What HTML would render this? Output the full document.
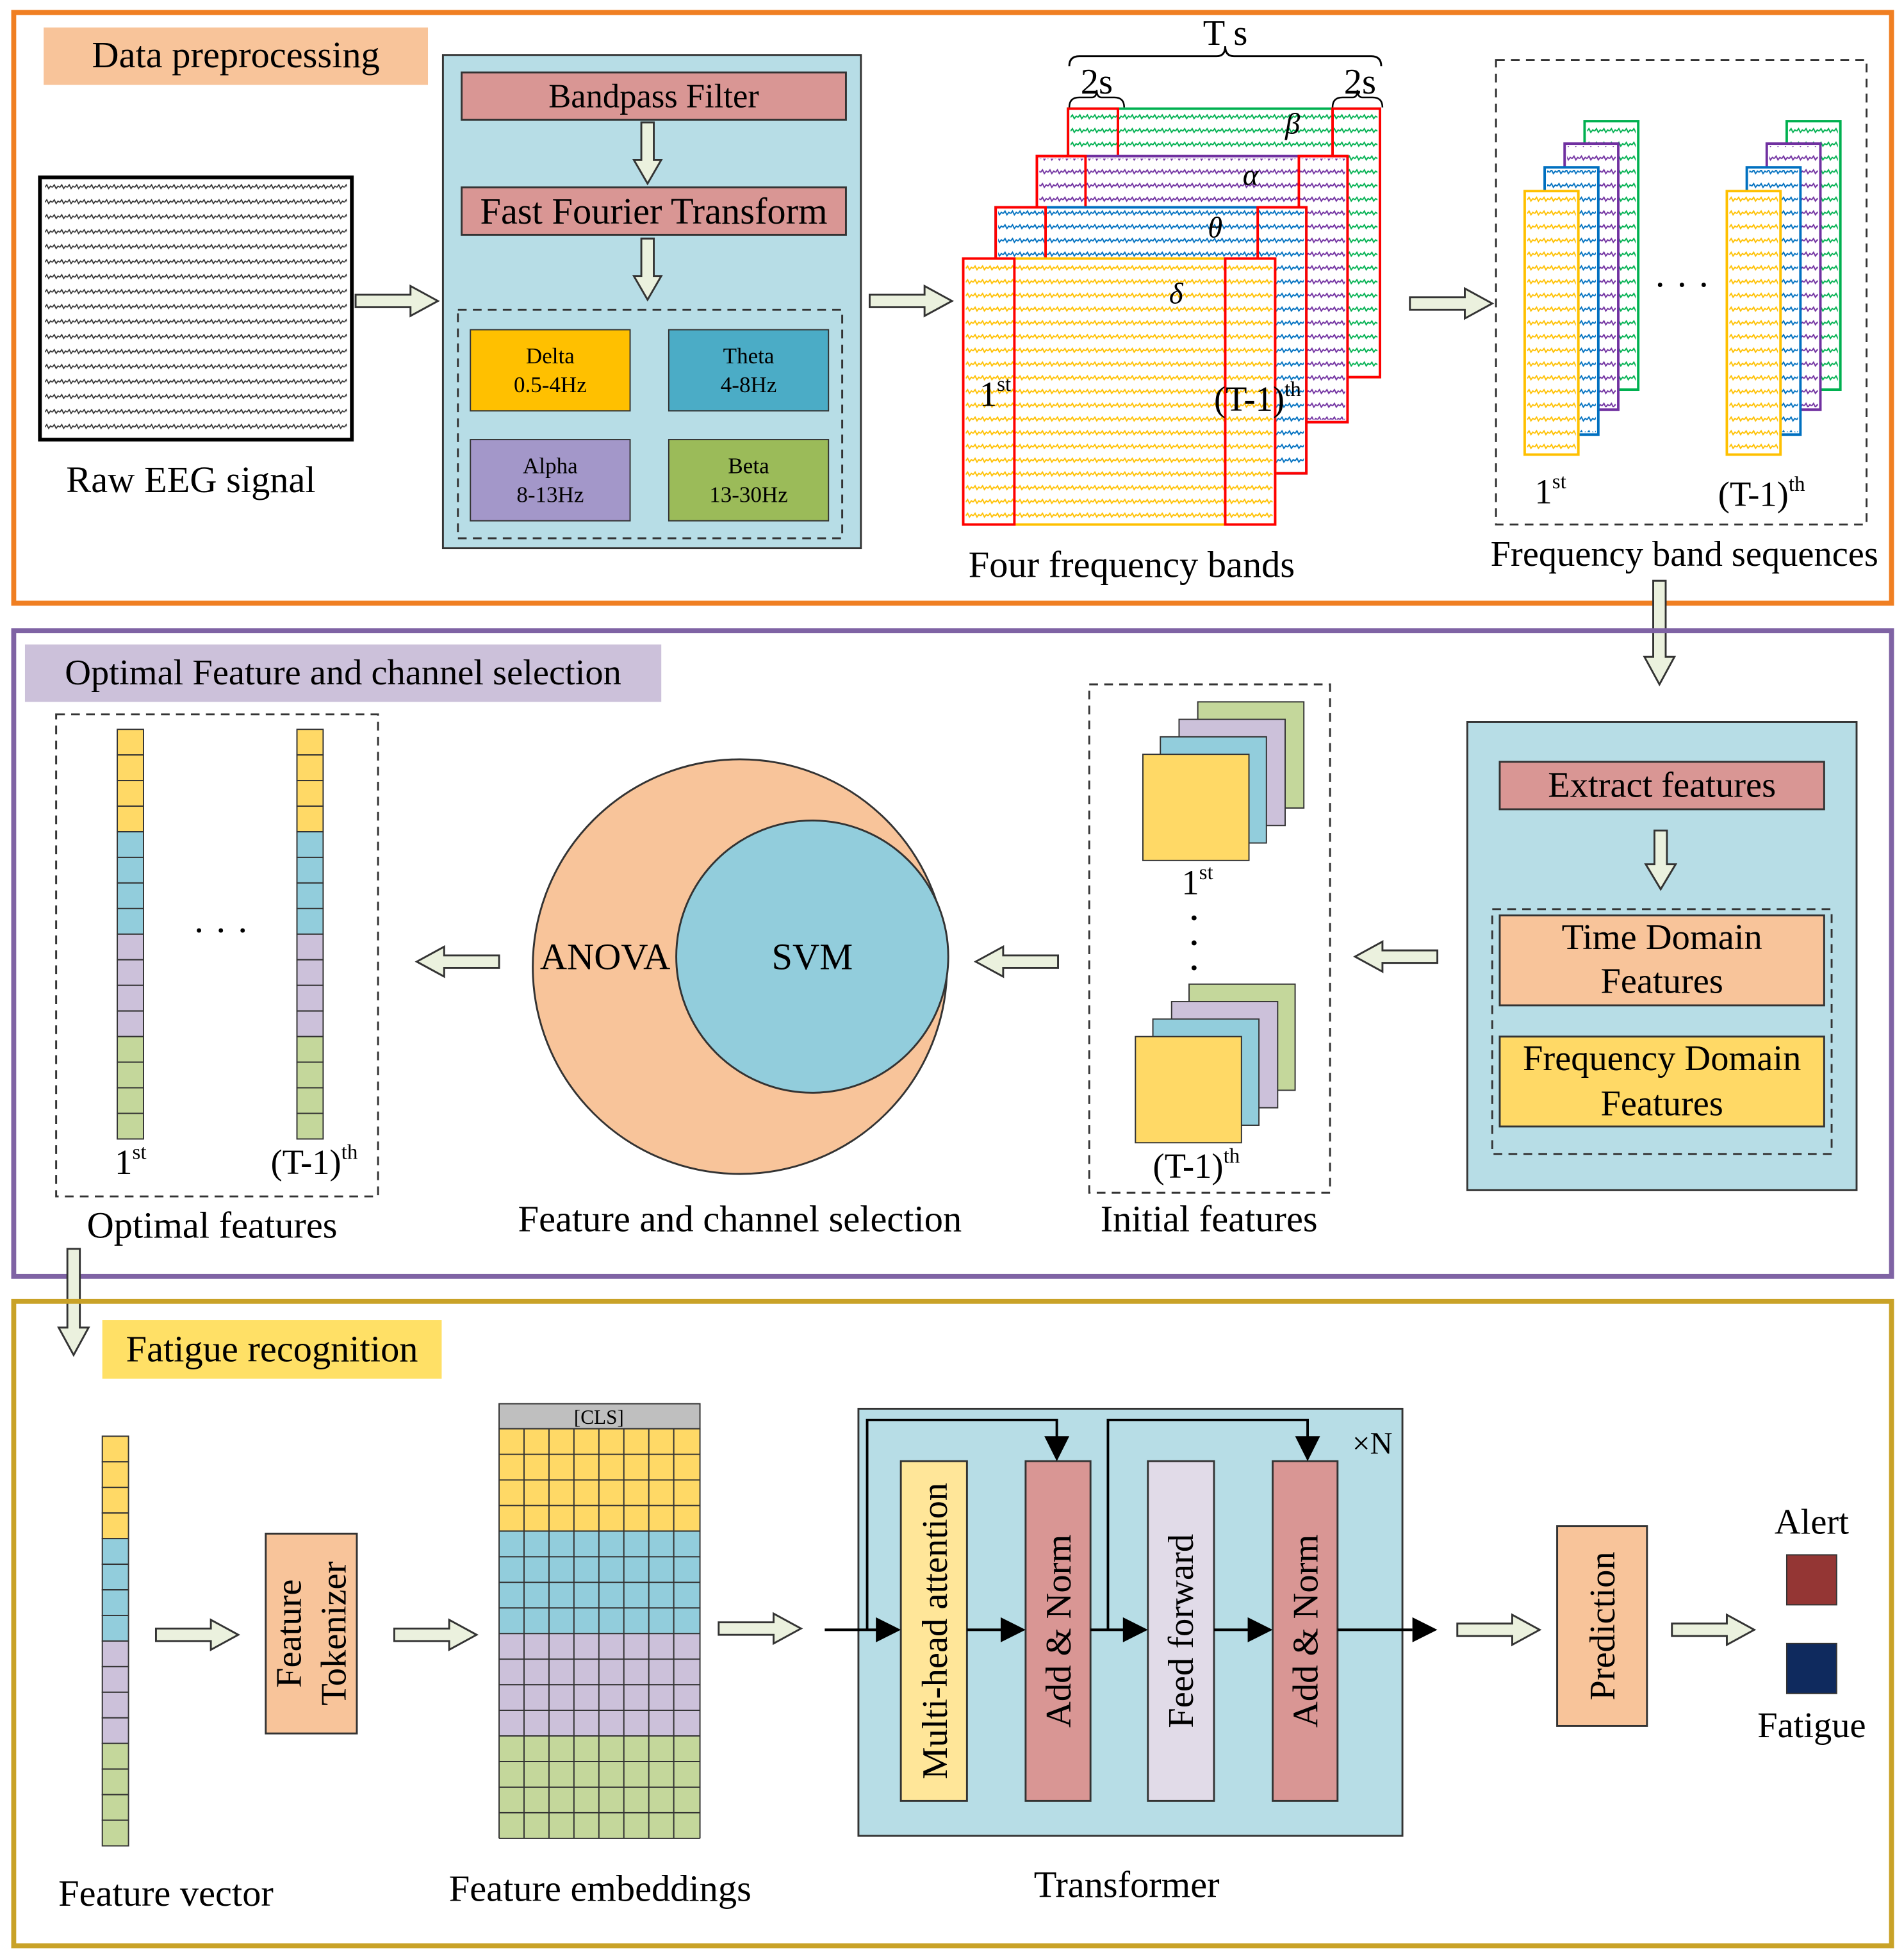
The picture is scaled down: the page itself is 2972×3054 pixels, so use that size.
<!DOCTYPE html>
<html><head><meta charset="utf-8"><style>
html,body{margin:0;padding:0;background:#fff}
svg{display:block}
text{font-family:"Liberation Serif",serif;fill:#000}
</style></head><body>
<svg width="2972" height="3054" viewBox="0 0 1526 1567" preserveAspectRatio="none" xmlns="http://www.w3.org/2000/svg">
<defs>
<polygon id="ar" points="0,7 44,7 44,0 66,12 44,24 44,17 0,17" fill="#ebf1de" stroke="#333" stroke-width="1.5"/>
<pattern id="wk" width="6" height="12" patternUnits="userSpaceOnUse"><path d="M0,6 l1.5,-2 1.5,3 1.5,-2 1.5,1" fill="none" stroke="#333" stroke-width="0.9"/></pattern>
<pattern id="wg" width="6" height="11" patternUnits="userSpaceOnUse"><path d="M0,6 l1.5,-2 1.5,3 1.5,-2 1.5,1" fill="none" stroke="#00b050" stroke-width="1"/></pattern>
<pattern id="wp" width="6" height="11" patternUnits="userSpaceOnUse"><path d="M0,6 l1.5,-2 1.5,3 1.5,-2 1.5,1" fill="none" stroke="#7030a0" stroke-width="1"/></pattern>
<pattern id="wb" width="6" height="11" patternUnits="userSpaceOnUse"><path d="M0,6 l1.5,-2 1.5,3 1.5,-2 1.5,1" fill="none" stroke="#0070c0" stroke-width="1"/></pattern>
<pattern id="wy" width="6" height="11" patternUnits="userSpaceOnUse"><path d="M0,6 l1.5,-2 1.5,3 1.5,-2 1.5,1" fill="none" stroke="#ffc000" stroke-width="1"/></pattern>
</defs>

<!-- Section 1 -->
<rect x="11" y="10" width="1505" height="473" fill="none" stroke="#f07f22" stroke-width="4"/>
<rect x="35" y="22" width="308" height="46" fill="#f8c49a"/>
<text x="189" y="54" font-size="30" text-anchor="middle">Data preprocessing</text>

<rect x="32" y="142" width="250" height="210" fill="#fff" stroke="#000" stroke-width="3"/>
<rect x="36" y="146" width="242" height="202" fill="url(#wk)"/>
<text x="153" y="394" font-size="30" text-anchor="middle">Raw EEG signal</text>
<use href="#ar" transform="translate(285,229)"/>

<rect x="355" y="44" width="335" height="395" fill="#b7dde6" stroke="#333" stroke-width="1.5"/>
<rect x="370" y="58" width="308" height="38" fill="#d99694" stroke="#333" stroke-width="1.5"/>
<text x="524" y="86" font-size="27" text-anchor="middle">Bandpass Filter</text>
<rect x="370" y="150" width="308" height="38" fill="#d99694" stroke="#333" stroke-width="1.5"/>
<text x="524" y="179" font-size="30" text-anchor="middle">Fast Fourier Transform</text>
<polygon points="514,98 524,98 524,128 530,128 519,147 508,128 514,128" fill="#ebf1de" stroke="#333" stroke-width="1.5"/>
<polygon points="514,191 524,191 524,221 530,221 519,240 508,221 514,221" fill="#ebf1de" stroke="#333" stroke-width="1.5"/>
<rect x="367" y="248" width="308" height="183" fill="none" stroke="#333" stroke-width="1.5" stroke-dasharray="7,5"/>
<rect x="377" y="264" width="128" height="65" fill="#ffc000" stroke="#333"/>
<text x="441" y="291" font-size="18" text-anchor="middle">Delta</text><text x="441" y="314" font-size="18" text-anchor="middle">0.5-4Hz</text>
<rect x="536" y="264" width="128" height="65" fill="#4bacc6" stroke="#333"/>
<text x="600" y="291" font-size="18" text-anchor="middle">Theta</text><text x="600" y="314" font-size="18" text-anchor="middle">4-8Hz</text>
<rect x="377" y="352" width="128" height="65" fill="#a397c9" stroke="#333"/>
<text x="441" y="379" font-size="18" text-anchor="middle">Alpha</text><text x="441" y="402" font-size="18" text-anchor="middle">8-13Hz</text>
<rect x="536" y="352" width="128" height="65" fill="#9bbb59" stroke="#333"/>
<text x="600" y="379" font-size="18" text-anchor="middle">Beta</text><text x="600" y="402" font-size="18" text-anchor="middle">13-30Hz</text>
<use href="#ar" transform="translate(697,229)"/>

<!-- four bands -->
<path d="M857,53 q0,-8 8,-8 h110 q7,0 7,-8 q0,8 7,8 h110 q8,0 8,8" fill="none" stroke="#000" stroke-width="1.5"/>
<text x="982" y="36" font-size="29" text-anchor="middle">T s</text>
<path d="M857,86 q0,-8 8,-8 h10 q4,0 4,-6 q0,6 4,6 h10 q8,0 8,8" fill="none" stroke="#000" stroke-width="1.3"/>
<path d="M1068,86 q0,-8 8,-8 h8 q4,0 4,-6 q0,6 4,6 h8 q8,0 8,8" fill="none" stroke="#000" stroke-width="1.3"/>
<text x="879" y="75" font-size="29" text-anchor="middle">2s</text>
<text x="1090" y="75" font-size="29" text-anchor="middle">2s</text>

<rect x="856" y="87" width="250" height="215" fill="#fff" stroke="#00b050" stroke-width="2"/>
<rect x="858" y="89" width="246" height="211" fill="url(#wg)"/>
<rect x="856" y="87" width="40" height="215" fill="none" stroke="#f00" stroke-width="2"/>
<rect x="1068" y="87" width="38" height="215" fill="none" stroke="#f00" stroke-width="2"/>
<text x="1030" y="107" font-size="24" font-style="italic">β</text>

<rect x="831" y="125" width="249" height="213" fill="#fff" stroke="#7030a0" stroke-width="2"/>
<rect x="833" y="127" width="245" height="209" fill="url(#wp)"/>
<rect x="831" y="125" width="39" height="213" fill="none" stroke="#f00" stroke-width="2"/>
<rect x="1041" y="125" width="39" height="213" fill="none" stroke="#f00" stroke-width="2"/>
<text x="996" y="148" font-size="24" font-style="italic">α</text>

<rect x="798" y="166" width="249" height="213" fill="#fff" stroke="#0070c0" stroke-width="2"/>
<rect x="800" y="168" width="245" height="209" fill="url(#wb)"/>
<rect x="798" y="166" width="40" height="213" fill="none" stroke="#f00" stroke-width="2"/>
<rect x="1008" y="166" width="39" height="213" fill="none" stroke="#f00" stroke-width="2"/>
<text x="968" y="190" font-size="24" font-style="italic">θ</text>

<rect x="772" y="207" width="250" height="213" fill="#fff" stroke="#ffc000" stroke-width="2"/>
<rect x="774" y="209" width="246" height="209" fill="url(#wy)"/>
<rect x="772" y="207" width="41" height="213" fill="none" stroke="#f00" stroke-width="2"/>
<rect x="982" y="207" width="40" height="213" fill="none" stroke="#f00" stroke-width="2"/>
<text x="937" y="243" font-size="24" font-style="italic">δ</text>
<text x="785" y="325" font-size="28">1<tspan font-size="17" dy="-12">st</tspan></text>
<text x="973" y="329" font-size="28">(T-1)<tspan font-size="17" dy="-12">th</tspan></text>
<text x="907" y="462" font-size="30" text-anchor="middle">Four frequency bands</text>
<use href="#ar" transform="translate(1130,231)"/>

<rect x="1199" y="48" width="297" height="372" fill="none" stroke="#333" stroke-width="1.5" stroke-dasharray="7,5"/>
<g>
<rect x="1270" y="97" width="43" height="215" fill="#fff" stroke="#00b050" stroke-width="2"/><rect x="1272" y="99" width="39" height="211" fill="url(#wg)"/>
<rect x="1254" y="115" width="43" height="213" fill="#fff" stroke="#7030a0" stroke-width="2"/><rect x="1256" y="117" width="39" height="209" fill="url(#wp)"/>
<rect x="1238" y="134" width="43" height="214" fill="#fff" stroke="#0070c0" stroke-width="2"/><rect x="1240" y="136" width="39" height="210" fill="url(#wb)"/>
<rect x="1222" y="153" width="43" height="211" fill="#fff" stroke="#ffc000" stroke-width="2"/><rect x="1224" y="155" width="39" height="207" fill="url(#wy)"/>
</g>
<g>
<rect x="1432" y="97" width="43" height="215" fill="#fff" stroke="#00b050" stroke-width="2"/><rect x="1434" y="99" width="39" height="211" fill="url(#wg)"/>
<rect x="1416" y="115" width="43" height="213" fill="#fff" stroke="#7030a0" stroke-width="2"/><rect x="1418" y="117" width="39" height="209" fill="url(#wp)"/>
<rect x="1400" y="134" width="43" height="214" fill="#fff" stroke="#0070c0" stroke-width="2"/><rect x="1402" y="136" width="39" height="210" fill="url(#wb)"/>
<rect x="1384" y="153" width="43" height="211" fill="#fff" stroke="#ffc000" stroke-width="2"/><rect x="1386" y="155" width="39" height="207" fill="url(#wy)"/>
</g>
<text x="1348" y="238" font-size="30" text-anchor="middle">· · ·</text>
<text x="1230" y="403" font-size="28">1<tspan font-size="17" dy="-12">st</tspan></text>
<text x="1377" y="405" font-size="28">(T-1)<tspan font-size="17" dy="-12">th</tspan></text>
<text x="1350" y="453" font-size="29" text-anchor="middle">Frequency band sequences</text>
<polygon points="1325,465 1335,465 1335,526 1342,526 1330,548 1318,526 1325,526" fill="#ebf1de" stroke="#333" stroke-width="1.5"/>

<!-- Section 2 -->
<rect x="11" y="505" width="1505" height="517" fill="none" stroke="#7f63a4" stroke-width="4"/>
<rect x="20" y="516" width="510" height="46" fill="#ccc1da"/>
<text x="275" y="548" font-size="29" text-anchor="middle">Optimal Feature and channel selection</text>

<rect x="1176" y="578" width="312" height="375" fill="#b7dde6" stroke="#333" stroke-width="1.5"/>
<rect x="1202" y="610" width="260" height="38" fill="#d99694" stroke="#333" stroke-width="1.5"/>
<text x="1332" y="638" font-size="29" text-anchor="middle">Extract features</text>
<polygon points="1326,665 1336,665 1336,692 1343,692 1331,712 1319,692 1326,692" fill="#ebf1de" stroke="#333" stroke-width="1.5"/>
<rect x="1196" y="728" width="272" height="196" fill="none" stroke="#333" stroke-width="1.5" stroke-dasharray="7,5"/>
<rect x="1202" y="733" width="260" height="72" fill="#f8c49a" stroke="#333" stroke-width="1.5"/>
<text x="1332" y="760" font-size="29" text-anchor="middle">Time Domain</text><text x="1332" y="795" font-size="29" text-anchor="middle">Features</text>
<rect x="1202" y="830" width="260" height="72" fill="#ffd966" stroke="#333" stroke-width="1.5"/>
<text x="1332" y="857" font-size="29" text-anchor="middle">Frequency Domain</text><text x="1332" y="893" font-size="29" text-anchor="middle">Features</text>
<use href="#ar" transform="translate(1152,778) rotate(180)"/>

<rect x="873" y="548" width="193" height="407" fill="none" stroke="#333" stroke-width="1.5" stroke-dasharray="7,5"/>
<rect x="960" y="562" width="85" height="85" fill="#c4d79b" stroke="#333"/>
<rect x="945" y="576" width="85" height="85" fill="#ccc1da" stroke="#333"/>
<rect x="930" y="590" width="85" height="85" fill="#92cddc" stroke="#333"/>
<rect x="916" y="604" width="85" height="85" fill="#ffd966" stroke="#333"/>
<text x="947" y="716" font-size="28">1<tspan font-size="17" dy="-12">st</tspan></text>
<circle cx="957" cy="735" r="2" fill="#000"/><circle cx="957" cy="755" r="2" fill="#000"/><circle cx="957" cy="775" r="2" fill="#000"/>
<rect x="953" y="788" width="85" height="85" fill="#c4d79b" stroke="#333"/>
<rect x="939" y="802" width="85" height="85" fill="#ccc1da" stroke="#333"/>
<rect x="924" y="816" width="85" height="85" fill="#92cddc" stroke="#333"/>
<rect x="910" y="830" width="85" height="85" fill="#ffd966" stroke="#333"/>
<text x="924" y="943" font-size="28">(T-1)<tspan font-size="17" dy="-12">th</tspan></text>
<text x="969" y="986" font-size="30" text-anchor="middle">Initial features</text>
<use href="#ar" transform="translate(848,782) rotate(180)"/>

<circle cx="593" cy="774" r="166" fill="#f8c49a" stroke="#333" stroke-width="1.5"/>
<circle cx="651" cy="766" r="109" fill="#92cddc" stroke="#333" stroke-width="1.5"/>
<text x="485" y="776" font-size="30" text-anchor="middle">ANOVA</text>
<text x="651" y="776" font-size="30" text-anchor="middle">SVM</text>
<text x="593" y="986" font-size="30" text-anchor="middle">Feature and channel selection</text>
<use href="#ar" transform="translate(400,782) rotate(180)"/>

<rect x="45" y="572" width="258" height="386" fill="none" stroke="#333" stroke-width="1.5" stroke-dasharray="7,5"/>
<g stroke="#333" stroke-width="1">
<rect x="94" y="584" width="21" height="20.5" fill="#ffd966"/><rect x="94" y="604.5" width="21" height="20.5" fill="#ffd966"/><rect x="94" y="625" width="21" height="20.5" fill="#ffd966"/><rect x="94" y="645.5" width="21" height="20.5" fill="#ffd966"/>
<rect x="94" y="666" width="21" height="20.5" fill="#92cddc"/><rect x="94" y="686.5" width="21" height="20.5" fill="#92cddc"/><rect x="94" y="707" width="21" height="20.5" fill="#92cddc"/><rect x="94" y="727.5" width="21" height="20.5" fill="#92cddc"/>
<rect x="94" y="748" width="21" height="20.5" fill="#ccc1da"/><rect x="94" y="768.5" width="21" height="20.5" fill="#ccc1da"/><rect x="94" y="789" width="21" height="20.5" fill="#ccc1da"/><rect x="94" y="809.5" width="21" height="20.5" fill="#ccc1da"/>
<rect x="94" y="830" width="21" height="20.5" fill="#c4d79b"/><rect x="94" y="850.5" width="21" height="20.5" fill="#c4d79b"/><rect x="94" y="871" width="21" height="20.5" fill="#c4d79b"/><rect x="94" y="891.5" width="21" height="20.5" fill="#c4d79b"/>
<rect x="238" y="584" width="21" height="20.5" fill="#ffd966"/><rect x="238" y="604.5" width="21" height="20.5" fill="#ffd966"/><rect x="238" y="625" width="21" height="20.5" fill="#ffd966"/><rect x="238" y="645.5" width="21" height="20.5" fill="#ffd966"/>
<rect x="238" y="666" width="21" height="20.5" fill="#92cddc"/><rect x="238" y="686.5" width="21" height="20.5" fill="#92cddc"/><rect x="238" y="707" width="21" height="20.5" fill="#92cddc"/><rect x="238" y="727.5" width="21" height="20.5" fill="#92cddc"/>
<rect x="238" y="748" width="21" height="20.5" fill="#ccc1da"/><rect x="238" y="768.5" width="21" height="20.5" fill="#ccc1da"/><rect x="238" y="789" width="21" height="20.5" fill="#ccc1da"/><rect x="238" y="809.5" width="21" height="20.5" fill="#ccc1da"/>
<rect x="238" y="830" width="21" height="20.5" fill="#c4d79b"/><rect x="238" y="850.5" width="21" height="20.5" fill="#c4d79b"/><rect x="238" y="871" width="21" height="20.5" fill="#c4d79b"/><rect x="238" y="891.5" width="21" height="20.5" fill="#c4d79b"/>
</g>
<text x="177" y="755" font-size="30" text-anchor="middle">· · ·</text>
<text x="92" y="940" font-size="28">1<tspan font-size="17" dy="-12">st</tspan></text>
<text x="217" y="940" font-size="28">(T-1)<tspan font-size="17" dy="-12">th</tspan></text>
<text x="170" y="991" font-size="30" text-anchor="middle">Optimal features</text>
<polygon points="54,1000 64,1000 64,1063 71,1063 59,1085 47,1063 54,1063" fill="#ebf1de" stroke="#333" stroke-width="1.5"/>

<!-- Section 3 -->
<rect x="11" y="1042" width="1505" height="516" fill="none" stroke="#c9a227" stroke-width="4"/>
<rect x="82" y="1057" width="272" height="47" fill="#ffe066"/>
<text x="218" y="1090" font-size="30" text-anchor="middle">Fatigue recognition</text>

<g stroke="#333" stroke-width="1">
<rect x="82" y="1150" width="21" height="20.5" fill="#ffd966"/><rect x="82" y="1170.5" width="21" height="20.5" fill="#ffd966"/><rect x="82" y="1191" width="21" height="20.5" fill="#ffd966"/><rect x="82" y="1211.5" width="21" height="20.5" fill="#ffd966"/>
<rect x="82" y="1232" width="21" height="20.5" fill="#92cddc"/><rect x="82" y="1252.5" width="21" height="20.5" fill="#92cddc"/><rect x="82" y="1273" width="21" height="20.5" fill="#92cddc"/><rect x="82" y="1293.5" width="21" height="20.5" fill="#92cddc"/>
<rect x="82" y="1314" width="21" height="20.5" fill="#ccc1da"/><rect x="82" y="1334.5" width="21" height="20.5" fill="#ccc1da"/><rect x="82" y="1355" width="21" height="20.5" fill="#ccc1da"/><rect x="82" y="1375.5" width="21" height="20.5" fill="#ccc1da"/>
<rect x="82" y="1396" width="21" height="20.5" fill="#c4d79b"/><rect x="82" y="1416.5" width="21" height="20.5" fill="#c4d79b"/><rect x="82" y="1437" width="21" height="20.5" fill="#c4d79b"/><rect x="82" y="1457.5" width="21" height="20.5" fill="#c4d79b"/>
</g>
<text x="133" y="1526" font-size="30" text-anchor="middle">Feature vector</text>
<use href="#ar" transform="translate(125,1297)"/>
<rect x="213" y="1228" width="73" height="160" fill="#f8c49a" stroke="#333" stroke-width="1.5"/>
<text transform="translate(241,1308) rotate(-90)" font-size="29" text-anchor="middle">Feature</text>
<text transform="translate(277,1308) rotate(-90)" font-size="29" text-anchor="middle">Tokenizer</text>
<use href="#ar" transform="translate(316,1297)"/>

<rect x="400" y="1124" width="161" height="20" fill="#bfbfbf" stroke="#333"/>
<text x="480" y="1140" font-size="16" text-anchor="middle">[CLS]</text>
<rect x="400" y="1144" width="161" height="82" fill="#ffd966"/>
<rect x="400" y="1226" width="161" height="82" fill="#92cddc"/>
<rect x="400" y="1308" width="161" height="82" fill="#ccc1da"/>
<rect x="400" y="1390" width="161" height="82" fill="#c4d79b"/>
<g stroke="#333" stroke-width="1">
<path d="M400,1144 V1472 M420,1144 V1472 M440,1144 V1472 M460,1144 V1472 M480,1144 V1472 M500,1144 V1472 M520,1144 V1472 M540,1144 V1472 M561,1144 V1472"/>
<path d="M400,1144 H561 M400,1164.5 H561 M400,1185 H561 M400,1205.5 H561 M400,1226 H561 M400,1246.5 H561 M400,1267 H561 M400,1287.5 H561 M400,1308 H561 M400,1328.5 H561 M400,1349 H561 M400,1369.5 H561 M400,1390 H561 M400,1410.5 H561 M400,1431 H561 M400,1451.5 H561 M400,1472 H561"/>
</g>
<text x="481" y="1522" font-size="30" text-anchor="middle">Feature embeddings</text>
<use href="#ar" transform="translate(576,1292)"/>

<rect x="688" y="1128" width="436" height="342" fill="#b7dde6" stroke="#333" stroke-width="1.5"/>
<rect x="722" y="1170" width="53" height="272" fill="#ffe699" stroke="#333" stroke-width="1.5"/>
<rect x="822" y="1170" width="52" height="272" fill="#d99694" stroke="#333" stroke-width="1.5"/>
<rect x="920" y="1170" width="53" height="272" fill="#e1dbe8" stroke="#333" stroke-width="1.5"/>
<rect x="1020" y="1170" width="52" height="272" fill="#d99694" stroke="#333" stroke-width="1.5"/>
<text transform="translate(759,1306) rotate(-90)" font-size="29" text-anchor="middle">Multi-head attention</text>
<text transform="translate(858,1306) rotate(-90)" font-size="29" text-anchor="middle">Add &amp; Norm</text>
<text transform="translate(956,1306) rotate(-90)" font-size="29" text-anchor="middle">Feed forward</text>
<text transform="translate(1056,1306) rotate(-90)" font-size="29" text-anchor="middle">Add &amp; Norm</text>
<g stroke="#000" stroke-width="2" fill="none">
<path d="M661,1305 H704 M775,1305 H804 M874,1305 H902 M973,1305 H1002 M1072,1305 H1132"/>
<path d="M695,1305 V1137 H847 V1152 M888,1305 V1137 H1048 V1152"/>
</g>
<g fill="#000">
<polygon points="722,1305 702,1295 702,1315"/><polygon points="822,1305 802,1295 802,1315"/>
<polygon points="920,1305 900,1295 900,1315"/><polygon points="1020,1305 1000,1295 1000,1315"/>
<polygon points="1152,1305 1132,1295 1132,1315"/>
<polygon points="847,1170 837,1150 857,1150"/><polygon points="1048,1170 1038,1150 1058,1150"/>
</g>
<text x="1100" y="1164" font-size="25" text-anchor="middle">×N</text>
<text x="903" y="1519" font-size="30" text-anchor="middle">Transformer</text>
<use href="#ar" transform="translate(1168,1293)"/>
<rect x="1248" y="1222" width="72" height="160" fill="#f8c49a" stroke="#333" stroke-width="1.5"/>
<text transform="translate(1294,1302) rotate(-90)" font-size="29" text-anchor="middle">Prediction</text>
<use href="#ar" transform="translate(1340,1293)"/>
<text x="1452" y="1228" font-size="29" text-anchor="middle">Alert</text>
<rect x="1432" y="1245" width="40" height="40" fill="#943634" stroke="#333"/>
<rect x="1432" y="1316" width="40" height="40" fill="#0f2a5e" stroke="#333"/>
<text x="1452" y="1391" font-size="29" text-anchor="middle">Fatigue</text>
</svg>
</body></html>
